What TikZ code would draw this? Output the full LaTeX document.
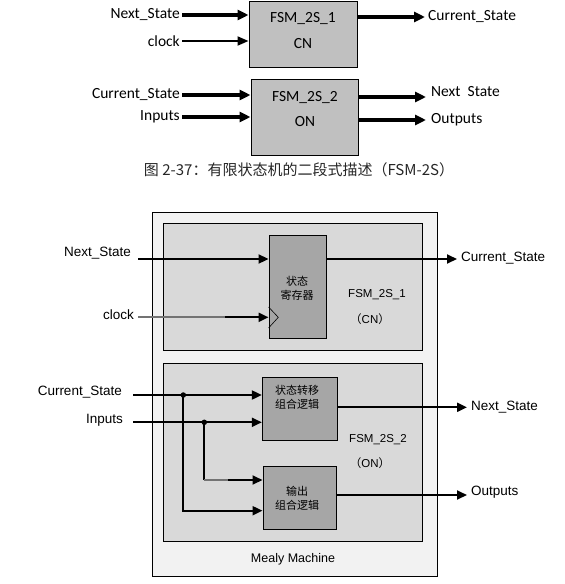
\documentclass[tikz,border=0pt]{standalone}
\usepackage{fontspec}
\setmainfont{Liberation Sans}
\newfontfamily\cjk{Noto Sans CJK SC}
\newfontfamily\calib{Carlito}
\usetikzlibrary{arrows.meta}
\definecolor{topgray}{RGB}{192,192,192}
\definecolor{outergray}{RGB}{242,242,242}
\definecolor{innergray}{RGB}{217,217,217}
\definecolor{blockgray}{RGB}{166,166,166}
\tikzset{
  topbox/.style={draw, line width=1pt, fill=topgray, inner sep=0pt},
  toptext/.style={font=\calib\fontsize{15.5}{18}\selectfont, inner sep=0pt},
  fatarrow/.style={line width=3.5pt, -{Triangle[length=11pt,width=10pt]}, shorten <=2pt},
  clkarrow/.style={line width=2pt, -{Triangle[length=11pt,width=9pt]}, shorten <=2pt},
  frame/.style={draw, line width=1pt, inner sep=0pt},
  block/.style={frame, fill=blockgray},
  sigtext/.style={font=\fontsize{13.5}{16}\selectfont, inner sep=0pt},
  intext/.style={font=\fontsize{11.5}{14}\selectfont, inner sep=0pt},
  cntext/.style={font=\cjk\fontsize{11}{14}\selectfont, inner sep=0pt, align=center},
  sig/.style={line width=2pt, -{Triangle[length=10pt,width=9pt]}},
  wire/.style={line width=2pt},
  junction/.style={circle, fill, inner sep=0pt, minimum size=5.5pt}
}
\begin{document}
\begin{tikzpicture}[x=1pt,y=-1pt]
  \useasboundingbox (0,0) rectangle (565,584);

  % two blocks on top
  \node[topbox, minimum width=108pt, minimum height=66pt] (cn) at (303,34) {};
  \node[toptext] (cnname) at (303,19) {FSM\_2S\_1};
  \node[toptext] (cnsub)  at (303,44) {CN};
  \node[topbox, minimum width=107pt, minimum height=76pt] (on) at (304.5,117) {};
  \node[toptext] (onname) at (305,98)  {FSM\_2S\_2};
  \node[toptext] (onsub)  at (305,122) {ON};

  \node[toptext, anchor=east] (tns)  at (180,15)  {Next\_State};
  \node[toptext, anchor=east] (tclk) at (180,41)  {clock};
  \node[toptext, anchor=west] (tcs)  at (428,17)  {Current\_State};
  \node[toptext, anchor=east] (tcs2) at (180,95)  {Current\_State};
  \node[toptext, anchor=east] (tin)  at (180,117) {Inputs};
  \node[toptext, anchor=west] (tns2) at (431,92)  {Next~~State};
  \node[toptext, anchor=west] (tout) at (431,120) {Outputs};

  \draw[fatarrow] (tns.east) -- (tns.east -| cn.west);
  \draw[clkarrow] (tclk.east) -- (tclk.east -| cn.west);
  \draw[fatarrow, shorten <=0pt, shorten >=3pt] (cn.east |- tcs.west) -- (tcs.west);
  \draw[fatarrow] (tcs2.east) -- (tcs2.east -| on.west);
  \draw[fatarrow] (tin.east) -- (tin.east -| on.west);
  \draw[fatarrow, shorten <=0pt, shorten >=5pt] (on.east |- 0,97) -- (tns2.west |- 0,97);
  \draw[fatarrow, shorten <=0pt, shorten >=5pt] (on.east |- tout.west) -- (tout.west);

  \node[font=\cjk\fontsize{15}{18}\selectfont, text=black!85, inner sep=0pt] (cap) at (299,170)
    {图 2-37：有限状态机的二段式描述（FSM-2S）};

  % Mealy machine
  \node[frame, fill=outergray, minimum width=285pt, minimum height=364pt] (mealy) at (294.5,394) {};
  \node[frame, fill=innergray, minimum width=259.4pt, minimum height=126.7pt] (part1) at (293,286.7) {};
  \node[frame, fill=innergray, minimum width=259.4pt, minimum height=177.7pt] (part2) at (293,452.2) {};
  \node[block, minimum width=57.3pt, minimum height=103pt] (reg) at (297.7,286.5) {};
  \node[block, minimum width=74.7pt, minimum height=63pt] (nxt) at (299.7,408.8) {};
  \node[block, minimum width=73pt, minimum height=62.6pt] (outl) at (299.5,498) {};

  \node[cntext] (regtxt) at (297,288) {状态\\寄存器};
  \node[cntext] (nxttxt) at (297,397.5) {状态转移\\组合逻辑};
  \node[cntext] (outtxt) at (297,498.5) {输出\\组合逻辑};
  \node[intext] (p1name) at (377,295) {FSM\_2S\_1};
  \node[intext] (p1sub)  at (370,319) {{\cjk （}CN{\cjk ）}};
  \node[intext] (p2name) at (378,440) {FSM\_2S\_2};
  \node[intext] (p2sub)  at (370,463) {{\cjk （}ON{\cjk ）}};
  \node[intext, font=\fontsize{12.5}{15}\selectfont] (mname) at (293,559) {Mealy Machine};

  \node[sigtext, anchor=east] (bns)  at (131,253) {Next\_State};
  \node[sigtext, anchor=east] (bclk) at (134,315) {clock};
  \node[sigtext, anchor=west] (bcs)  at (461,258) {Current\_State};
  \node[sigtext, anchor=east] (bcs2) at (122,392) {Current\_State};
  \node[sigtext, anchor=east] (bin)  at (123,420) {Inputs};
  \node[sigtext, anchor=west] (bns2) at (471,407) {Next\_State};
  \node[sigtext, anchor=west] (bout) at (471,492) {Outputs};

  \coordinate (nsin)  at (138,259);
  \coordinate (csout) at (457,259);
  \coordinate (clkin) at (138,317.3);
  \coordinate (clkmid) at (225,317.3);
  \coordinate (csin)  at (133,395);
  \coordinate (inin)  at (133,422.3);
  \coordinate (nsout) at (467,407.3);
  \coordinate (oout)  at (467,495);

  \draw[sig] (nsin) -- (nsin -| reg.west);
  \draw[sig] (reg.east |- csout) -- (csout);
  \draw[wire, black!55] (clkin) -- (clkmid);
  \draw[sig] (clkmid) -- (clkmid -| reg.west);
  \draw[line width=0.6pt] (reg.west |- 0,307) -- (278.3,317.3) -- (reg.west |- 0,328);

  \node[junction] (j1) at (183.3,395) {};
  \node[junction] (j2) at (204.3,422.3) {};
  \draw[sig] (csin) -- (csin -| nxt.west);
  \draw[sig] (inin) -- (inin -| nxt.west);
  \draw[sig] (j1.center) -- (183.3,510.7) -- (183.3,510.7 -| outl.west);
  \draw[wire] (j2.center) -- (204.3,480);
  \draw[wire, black!55] (204.3,480) -- (228,480);
  \draw[sig] (228,480) -- (228,480 -| outl.west);
  \draw[sig] (nxt.east |- nsout) -- (nsout);
  \draw[sig] (outl.east |- oout) -- (oout);
\end{tikzpicture}
\end{document}
